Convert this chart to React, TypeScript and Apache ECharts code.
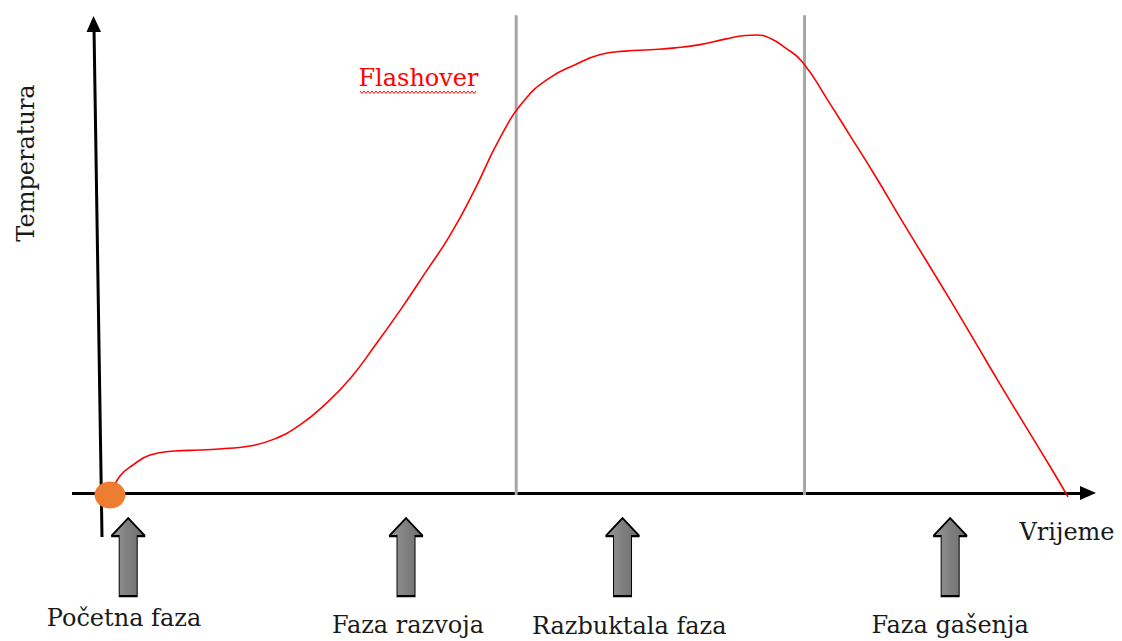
import React, { useEffect, useRef } from "react";
import * as echarts from "echarts";

// Fire temperature curve (time, temperature in relative units 0..100)
const timeValues = [0.21, 1.04, 2.4, 4.18, 6.78, 9.39, 12.0, 14.6, 17.2, 19.8, 22.4, 25.1, 27.7, 30.3, 32.9, 35.5, 38.1, 40.7, 43.3, 45.9, 48.5, 51.1, 53.8, 56.4, 59.0, 61.6, 64.2, 66.3, 67.5, 68.9, 70.5, 72.3, 74.9, 77.2, 79.9, 82.5, 85.1, 87.7, 90.3, 92.9, 95.5, 98.1, 100];
const tempValues = [0.65, 4.13, 6.52, 8.7, 9.57, 9.78, 10.1, 10.65, 12.2, 15.2, 19.6, 25.4, 32.6, 40.2, 48.3, 56.5, 66.5, 77.6, 85.9, 90.7, 93.5, 95.7, 96.5, 96.8, 97.2, 97.9, 99.1, 99.9, 100, 99.3, 97.2, 94.1, 85.9, 78.3, 69.3, 60.2, 51.3, 42.4, 33.3, 24.1, 15.2, 6.3, -0.4];

// Phase boundaries (time)
const phaseBoundaries = [42.4, 72.5];
const boundaryTop = 104.3;

// Phase arrows and labels
const phaseLabels = ["Početna faza", "Faza razvoja", "Razbuktala faza", "Faza gašenja"];
const arrowTimes = [1.9, 30.9, 53.5, 87.7];
const arrowLevel = -13.5;
const labelTimes = [1.46, 31.1, 54.2, 87.7];
const labelLevels = [-26.7, -28.2, -28.4, -28.2];

const axisXTitle = "Vrijeme";
const axisYTitle = "Temperatura";
const flashoverLabel = "Flashover";

const FONT = "DejaVu Serif";
const FS = 24;

export default function App() {
  const ref = useRef<HTMLDivElement>(null);

  useEffect(() => {
    if (!ref.current) return;
    const chart = echarts.init(ref.current, undefined, { renderer: "svg" });

    const wavy: number[][] = [];
    for (let x = 360, i = 0; x <= 477; x += 2, i++) {
      wavy.push([x, i % 2 === 0 ? 91 : 93.5]);
    }

    const arrowPath = "path://M17,0 L34,18 L26,18 L26,78 L8,78 L8,18 L0,18 Z";
    const textStyle = (text: string, fill: string) => ({
      text,
      fontFamily: FONT,
      fontSize: FS,
      fill,
      align: "center",
      verticalAlign: "middle",
    });

    chart.setOption({
      animation: false,
      backgroundColor: "#ffffff",
      grid: { left: 110, top: 35, width: 958, height: 460 },
      xAxis: { type: "value", min: 0, max: 100, show: false },
      yAxis: { type: "value", min: 0, max: 100, show: false },
      graphic: [
        // y axis
        { type: "line", shape: { x1: 94, y1: 28, x2: 102, y2: 537 }, style: { stroke: "#000", lineWidth: 3 }, z: 0 },
        { type: "polygon", shape: { points: [[93.5, 16], [86.5, 32], [101, 32]] }, style: { fill: "#000" }, z: 0 },
        // x axis
        { type: "line", shape: { x1: 72, y1: 493.5, x2: 1083, y2: 493.5 }, style: { stroke: "#000", lineWidth: 3 }, z: 0 },
        { type: "polygon", shape: { points: [[1096, 493], [1080, 486], [1080, 500]] }, style: { fill: "#000" }, z: 0 },
        // axis titles
        { type: "text", x: 1067, y: 532, style: textStyle(axisXTitle, "#1a1a1a") },
        { type: "text", x: 26, y: 163, rotation: Math.PI / 2, style: textStyle(axisYTitle, "#1a1a1a") },
        // flashover
        { type: "text", x: 418.5, y: 78, style: textStyle(flashoverLabel, "#ff0000") },
        { type: "polyline", shape: { points: wavy }, style: { stroke: "#ff0000", lineWidth: 1, fill: null } },
      ],
      series: [
        ...phaseBoundaries.map((b) => ({
          type: "line",
          data: [[b, 0], [b, boundaryTop]],
          symbol: "none",
          clip: false,
          lineStyle: { color: "#a6a6a6", width: 3 },
          z: 1,
        })),
        {
          type: "line",
          data: timeValues.map((t, i) => [t, tempValues[i]]),
          smooth: 0.5,
          symbol: "none",
          clip: false,
          lineStyle: { color: "#ff0000", width: 1.6 },
          z: 3,
        },
        {
          type: "scatter",
          data: [[0, 0]],
          symbol: "circle",
          symbolSize: [31, 27],
          itemStyle: { color: "#ed7d31", opacity: 1 },
          z: 4,
        },
        {
          type: "scatter",
          data: arrowTimes.map((t) => [t, arrowLevel]),
          symbol: arrowPath,
          symbolSize: [34, 78],
          symbolKeepAspect: false,
          clip: false,
          itemStyle: {
            opacity: 1,
            color: {
              type: "linear", x: 0, y: 0, x2: 1, y2: 0,
              colorStops: [
                { offset: 0, color: "#9a9a9a" },
                { offset: 0.5, color: "#7f7f7f" },
                { offset: 1, color: "#6e6e6e" },
              ],
            },
            borderColor: "#000",
            borderWidth: 1.5,
          },
          z: 4,
        },
        {
          type: "scatter",
          data: labelTimes.map((t, i) => ({ value: [t, labelLevels[i]], name: phaseLabels[i] })),
          symbolSize: 0,
          clip: false,
          itemStyle: { opacity: 1 },
          label: {
            show: true,
            position: "inside",
            formatter: (p: any) => p.name,
            fontFamily: FONT,
            fontSize: FS,
            color: "#1a1a1a",
          },
          z: 4,
        },
      ],
    });

    return () => chart.dispose();
  }, []);

  return <div ref={ref} style={{ width: 1122, height: 641, position: "absolute", left: 0, top: 0 }} />;
}
